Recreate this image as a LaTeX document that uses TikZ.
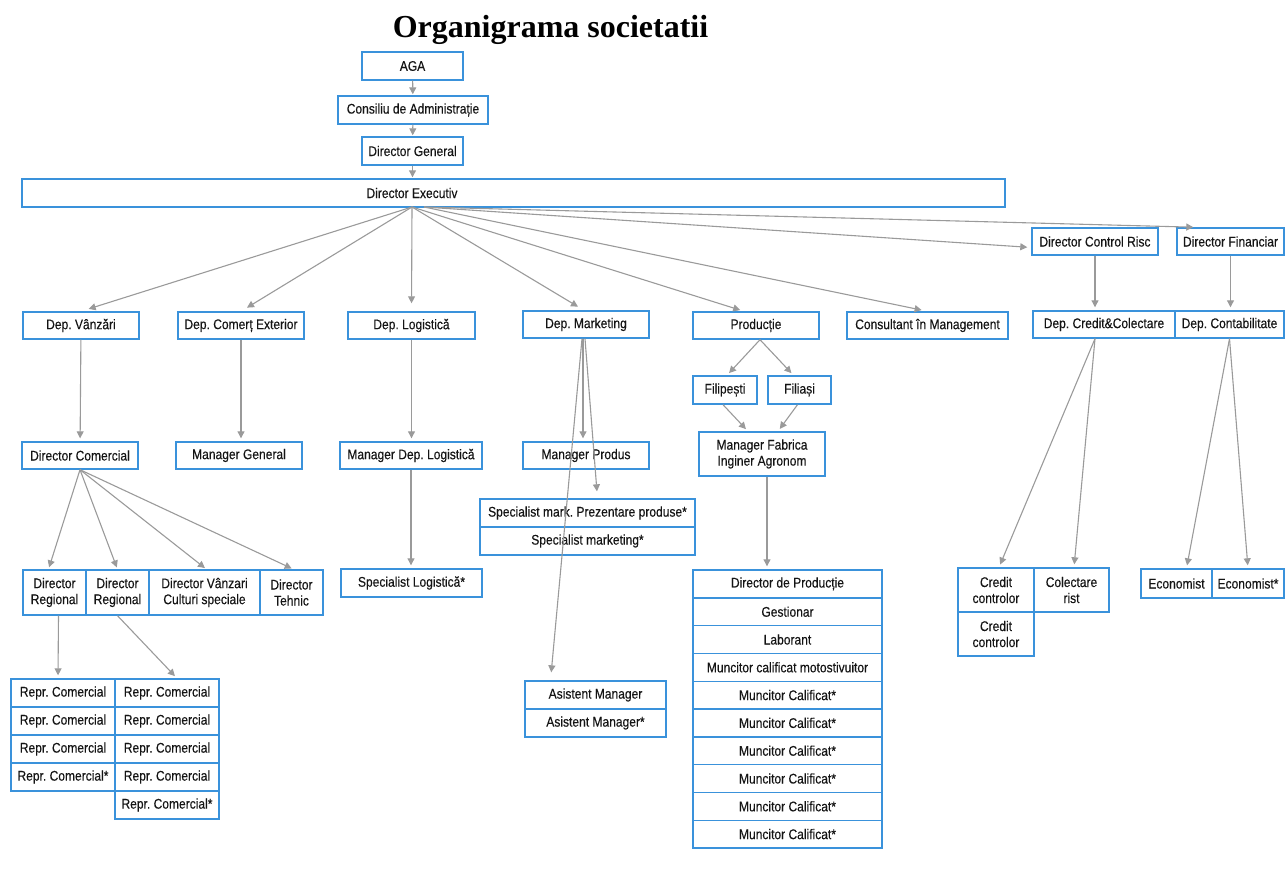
\documentclass[tikz,border=0pt]{standalone}
\usepackage{fontspec}
\usetikzlibrary{arrows.meta}
\setmainfont{Liberation Sans}
\newfontfamily\titlefont{Liberation Serif}
\newfontfamily\lblfont[FakeStretch=0.86,FakeBold=0.25]{Liberation Sans}
\frenchspacing
\definecolor{boxblue}{HTML}{3A92DB}
\definecolor{arrgray}{HTML}{9A9A9A}
\definecolor{txt}{HTML}{141414}
\newcommand\bx[6]{\node[box,minimum width={(#4-#2)*1pt},minimum height={(#5-#3)*1pt}] (#1) at ({(#2+#4)/2},{(#3+#5)/2}) {#6};}
\tikzset{
  box/.style={draw=boxblue,line width=1.4pt,fill=white,inner sep=0pt,align=center,text=txt,
    font=\lblfont\fontsize{14}{16}\selectfont},
  arr/.style={draw=arrgray,line width=1.1pt,-{Triangle[length=7pt,width=7pt]},shorten >=3pt},
  lbl/.style={text=txt,font=\lblfont\fontsize{14}{16}\selectfont,inner sep=0pt}
}
\begin{document}
\begin{tikzpicture}[x=1pt,y=-1pt]
\useasboundingbox (0,0) rectangle (1285,890);
\node[font=\titlefont\bfseries\fontsize{32}{36}\selectfont,inner sep=0pt] (title) at (550.5,30) {Organigrama societatii};
% top chain
\bx{aga}{362}{52}{463}{80}{AGA}
\bx{ca}{338}{96}{488}{124}{Consiliu de Administrație}
\bx{dg}{362}{137}{463}{165}{Director General}
\bx{de}{22}{179}{1005}{207}{}
\node[lbl] (detext) at (412,193) {Director Executiv};
\coordinate (deo) at (412,207);
\coordinate (deo2) at (424,207);
% level 2
\bx{vanz}{23}{312}{139}{339}{Dep. Vânzări}
\bx{comert}{178}{312}{304}{339}{Dep. Comerț Exterior}
\bx{logi}{348}{312}{475}{339}{Dep. Logistică}
\bx{mkt}{523}{311}{649}{338}{Dep. Marketing}
\bx{prod}{693}{312}{819}{339}{Producție}
\bx{cons}{847}{312}{1008}{339}{Consultant în Management}
\bx{dcr}{1032}{228}{1158}{255}{Director Control Risc}
\bx{dfin}{1177}{228}{1284}{255}{Director Financiar}
\bx{dcc}{1033}{311}{1175}{338}{Dep. Credit\&Colectare}
\bx{dcont}{1175}{311}{1284}{338}{Dep. Contabilitate}
% level 3
\bx{dc}{22}{442}{138}{469}{Director Comercial}
\bx{mg}{176}{442}{302}{469}{Manager General}
\bx{mdl}{340}{442}{482}{469}{Manager Dep. Logistică}
\bx{sl}{341}{569}{482}{597}{Specialist Logistică*}
\bx{dr1}{23}{570}{86}{615}{Director\\Regional}
\bx{dr2}{86}{570}{149}{615}{Director\\Regional}
\bx{dvcs}{149}{570}{260}{615}{Director Vânzari\\Culturi speciale}
\bx{dt}{260}{570}{323}{615}{Director\\Tehnic}
% repr
\bx{rl1}{11}{679}{115}{707}{Repr. Comercial}
\bx{rl2}{11}{707}{115}{735}{Repr. Comercial}
\bx{rl3}{11}{735}{115}{763}{Repr. Comercial}
\bx{rl4}{11}{763}{115}{791}{Repr. Comercial*}
\bx{rr1}{115}{679}{219}{707}{Repr. Comercial}
\bx{rr2}{115}{707}{219}{735}{Repr. Comercial}
\bx{rr3}{115}{735}{219}{763}{Repr. Comercial}
\bx{rr4}{115}{763}{219}{791}{Repr. Comercial}
\bx{rr5}{115}{791}{219}{819}{Repr. Comercial*}
% marketing
\bx{mp}{523}{442}{649}{469}{Manager Produs}
\bx{sm1}{480}{499}{695}{527}{Specialist mark. Prezentare produse*}
\bx{sm2}{480}{527}{695}{555}{Specialist marketing*}
\bx{am1}{525}{681}{666}{709}{Asistent Manager}
\bx{am2}{525}{709}{666}{737}{Asistent Manager*}
% production
\bx{fil1}{693}{376}{757}{404}{Filipești}
\bx{fil2}{768}{376}{831}{404}{Filiași}
\bx{mf}{699}{432}{825}{476}{Manager Fabrica\\Inginer Agronom}
\bx{dp}{693}{570}{882}{597.8}{Director de Producție}
\bx{p2}{693}{597.8}{882}{625.6}{Gestionar}
\bx{p3}{693}{625.6}{882}{653.4}{Laborant}
\bx{p4}{693}{653.4}{882}{681.2}{Muncitor calificat motostivuitor}
\bx{p5}{693}{681.2}{882}{709}{Muncitor Calificat*}
\bx{p6}{693}{709}{882}{736.8}{Muncitor Calificat*}
\bx{p7}{693}{736.8}{882}{764.6}{Muncitor Calificat*}
\bx{p8}{693}{764.6}{882}{792.4}{Muncitor Calificat*}
\bx{p9}{693}{792.4}{882}{820.2}{Muncitor Calificat*}
\bx{p10}{693}{820.2}{882}{848}{Muncitor Calificat*}
% finance
\bx{cc1}{958}{568}{1034}{612}{Credit\\controlor}
\bx{colr}{1034}{568}{1109}{612}{Colectare\\rist}
\bx{cc2}{958}{612}{1034}{656}{Credit\\controlor}
\bx{eco}{1141}{569}{1212}{598}{Economist}
\bx{eco2}{1212}{569}{1284}{598}{Economist*}
% connectors
\draw[arr,shorten >=1pt] (aga) -- (ca);
\draw[arr,shorten >=1pt] (ca) -- (dg);
\draw[arr,shorten >=1pt] (dg.south) -- (dg.south |- de.north);
\draw[arr,shorten >=8pt] (deo) -- (vanz.north);
\draw[arr,shorten >=7pt] (deo) -- (comert.north);
\draw[arr,shorten >=8pt] (deo) -- (logi.north);
\draw[arr,shorten >=7pt] (deo) -- ([xshift=-2pt]mkt.north);
\draw[arr,shorten >=4pt] (deo) -- ([xshift=-12pt]prod.north);
\draw[arr,shorten >=6pt] (deo2) -- (cons.north);
\draw[arr,shorten >=4pt] (deo2) -- ([yshift=-6pt]dcr.west);
\draw[arr,shorten >=4pt] (deo2) -- ([xshift=21pt]dfin.north west);
\draw[arr] (dcr) -- (dcr |- dcc.north);
\draw[arr] (dfin.south) -- (dfin.south |- dcont.north);
\draw[arr] (vanz) -- (dc);
\draw[arr] (comert) -- (comert |- mg.north);
\draw[arr] (logi) -- (logi |- mdl.north);
\draw[arr] (mdl) -- (mdl |- sl.north);
\draw[arr,shorten >=2pt] (dc.south) -- ([xshift=-6pt]dr1.north);
\draw[arr,shorten >=2pt] (dc.south) -- (dr2.north);
\draw[arr,shorten >=2pt] (dc.south) -- ([xshift=2pt]dvcs.north);
\draw[arr,shorten >=2pt] (dc.south) -- ([xshift=2pt]dt.north);
\draw[arr] ([xshift=4pt]dr1.south) -- ([xshift=-5pt]rl1.north);
\draw[arr] (dr2.south) -- ([xshift=10pt]rr1.north);
\draw[arr] ([xshift=-3pt]mkt.south) -- ([xshift=-3pt]mp.north);
\draw[arr,shorten >=7pt] ([xshift=-1pt]mkt.south) -- ([xshift=10pt]sm1.north);
\draw[arr,shorten >=8pt] ([xshift=-4pt]mkt.south) -- ([xshift=-45pt]am1.north);
\draw[arr] ([xshift=4pt]prod.south) -- ([xshift=2pt]fil1.north);
\draw[arr] ([xshift=4pt]prod.south) -- ([xshift=-6pt]fil2.north);
\draw[arr] ([xshift=-2pt]fil1.south) -- ([xshift=-14pt]mf.north);
\draw[arr] ([xshift=-2pt]fil2.south) -- ([xshift=16pt]mf.north);
\draw[arr] ([xshift=5pt]mf.south) -- ([xshift=-20.5pt]dp.north);
\draw[arr] ([xshift=-9pt]dcc.south) -- ([xshift=3pt]cc1.north);
\draw[arr] ([xshift=-9pt]dcc.south) -- ([xshift=2.5pt]colr.north);
\draw[arr] (dcont.south) -- ([xshift=10pt]eco.north);
\draw[arr] (dcont.south) -- (eco2.north);
\end{tikzpicture}
\end{document}
